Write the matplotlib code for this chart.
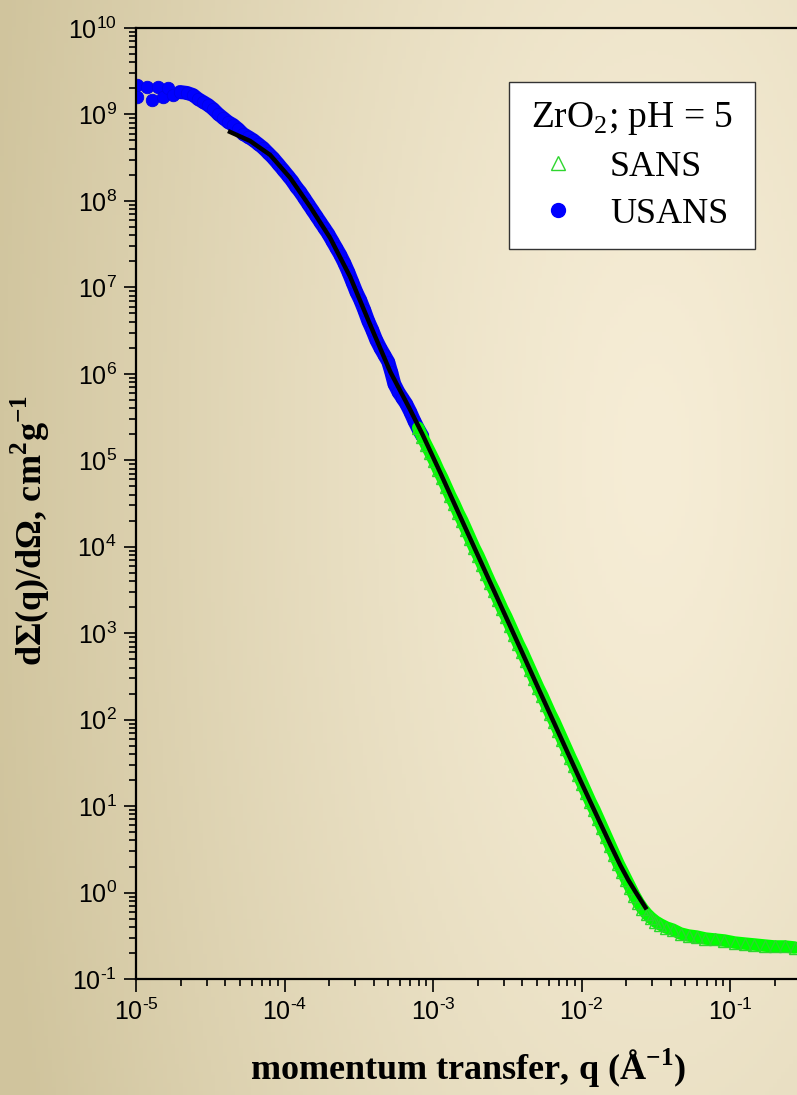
import numpy as np
import matplotlib
matplotlib.use('Agg')
import matplotlib.pyplot as plt
from matplotlib.lines import Line2D
from matplotlib.ticker import LogLocator, FuncFormatter

# values, stored as log10
# USANS (blue filled circles)
usans_logq = [-4.993, -4.993, -4.926, -4.892, -4.852, -4.818, -4.784, -4.751, -4.704, -4.656,
              -4.616, -4.582, -4.549, -4.515, -4.481, -4.447, -4.414, -4.380, -4.346, -4.313,
              -4.279, -4.245, -4.212, -4.178, -4.144, -4.111, -4.077, -4.043, -4.009, -3.976,
              -3.949, -3.922, -3.895, -3.868, -3.841, -3.814, -3.787, -3.760, -3.733, -3.706,
              -3.679, -3.652, -3.625, -3.598, -3.571, -3.544, -3.517, -3.491, -3.464, -3.437,
              -3.410, -3.383, -3.356, -3.329, -3.302, -3.282, -3.261, -3.234, -3.208, -3.181,
              -3.154, -3.127, -3.100, -3.073]
usans_logI = [9.341, 9.202, 9.318, 9.168, 9.318, 9.202, 9.306, 9.225, 9.260, 9.249,
              9.225, 9.179, 9.145, 9.110, 9.064, 9.006, 8.960, 8.913, 8.879, 8.832,
              8.775, 8.740, 8.705, 8.659, 8.613, 8.555, 8.497, 8.428, 8.358, 8.289,
              8.231, 8.162, 8.104, 8.035, 7.965, 7.896, 7.827, 7.757, 7.688, 7.619,
              7.538, 7.457, 7.376, 7.283, 7.179, 7.064, 6.948, 6.855, 6.740, 6.613,
              6.509, 6.393, 6.301, 6.220, 6.139, 6.023, 5.884, 5.792, 5.723, 5.653,
              5.561, 5.457, 5.364, 5.283]

# SANS (green open triangles)
sans_logq = [-3.100, -3.073, -3.046, -3.019, -2.992, -2.965, -2.938, -2.911, -2.884, -2.857,
             -2.830, -2.803, -2.776, -2.749, -2.722, -2.695, -2.668, -2.642, -2.615, -2.588,
             -2.561, -2.534, -2.507, -2.480, -2.453, -2.426, -2.399, -2.372, -2.345, -2.318,
             -2.291, -2.264, -2.237, -2.210, -2.183, -2.156, -2.129, -2.102, -2.075, -2.049,
             -2.022, -1.995, -1.968, -1.941, -1.914, -1.887, -1.860, -1.833, -1.806, -1.779,
             -1.752, -1.725, -1.698, -1.671, -1.644, -1.617, -1.590, -1.563, -1.536, -1.503,
             -1.469, -1.429, -1.388, -1.334, -1.280, -1.226, -1.166, -1.105, -1.038, -0.970,
             -0.903, -0.836, -0.768, -0.701, -0.633, -0.566]
sans_logI = [5.376, 5.272, 5.179, 5.087, 4.994, 4.890, 4.798, 4.694, 4.590, 4.497,
             4.393, 4.301, 4.197, 4.092, 3.988, 3.896, 3.792, 3.688, 3.584, 3.491,
             3.387, 3.283, 3.191, 3.087, 2.983, 2.879, 2.786, 2.682, 2.578, 2.474,
             2.370, 2.277, 2.173, 2.069, 1.977, 1.873, 1.769, 1.665, 1.561, 1.468,
             1.364, 1.260, 1.156, 1.052, 0.959, 0.855, 0.751, 0.647, 0.543, 0.439,
             0.335, 0.243, 0.150, 0.058, -0.035, -0.116, -0.185, -0.243, -0.289, -0.335,
             -0.370, -0.405, -0.428, -0.474, -0.497, -0.509, -0.532, -0.543, -0.555, -0.578,
             -0.590, -0.601, -0.613, -0.624, -0.624, -0.636]

# fitted model curve (black line)
fit_logq = [-4.367, -4.232, -4.097, -3.962, -3.827, -3.693, -3.558, -3.423, -3.288, -3.154,
            -3.073, -2.951, -2.817, -2.682, -2.547, -2.412, -2.278, -2.143, -2.008, -1.873,
            -1.806, -1.739, -1.685, -1.637, -1.570]
fit_logI = [8.798, 8.694, 8.532, 8.266, 7.931, 7.572, 7.121, 6.566, 6.023, 5.584,
            5.306, 4.855, 4.347, 3.838, 3.329, 2.821, 2.312, 1.803, 1.295, 0.798,
            0.553, 0.315, 0.143, 0.008, -0.173]

plt.rcParams['mathtext.fontset'] = 'custom'
plt.rcParams['mathtext.rm'] = 'Liberation Sans'
plt.rcParams['mathtext.sf'] = 'Liberation Serif'
plt.rcParams['mathtext.bf'] = 'Liberation Serif:bold'
plt.rcParams['font.family'] = 'Liberation Sans'

W, H = 797, 1095
fig = plt.figure(figsize=(W / 100, H / 100), dpi=100)

# beige gradient background, darker towards the left
bg = fig.add_axes([0, 0, 1, 1], zorder=-10)
gx, gy = np.meshgrid(np.linspace(0, 1, 200), np.linspace(0, 1, 280))
d = np.sqrt(((gx - 0.82) * 1.0) ** 2 + ((gy - 0.42) * 0.55) ** 2)
t = np.clip(d / 0.85, 0, 1) ** 1.3
light = np.array([246, 237, 214]) / 255
dark = np.array([208, 196, 157]) / 255
img = light[None, None, :] * (1 - t[..., None]) + dark[None, None, :] * t[..., None]
bg.imshow(img, aspect='auto', extent=[0, 1, 0, 1], origin='upper')
bg.axis('off')

# axes: left spine at x=136 px, bottom at 979 px, top at 28 px
ax = fig.add_axes([136 / W, (H - 979) / H, 665 / W, 951 / H])
ax.patch.set_alpha(0)

uq, uI = 10 ** np.array(usans_logq), 10 ** np.array(usans_logI)
sq, sI = 10 ** np.array(sans_logq), 10 ** np.array(sans_logI)
# dense measured points merge into a band
ax.plot(uq[8:], uI[8:], '-', color='#0000ff', lw=10, solid_capstyle='round', zorder=2)
ax.plot(uq, uI, 'o', color='#0000ff', ms=9, mec='#0000e6', mew=0.6, ls='none', zorder=2)
ax.plot(sq, sI, '-', color='#00ff00', lw=9, solid_capstyle='round', zorder=3)
ax.plot(sq, sI, '^', color='#2ed62e', mfc='none', ms=9, mew=1.0, ls='none', zorder=3)
ax.plot(10 ** np.array(fit_logq), 10 ** np.array(fit_logI), '-', color='black', lw=3.2,
        zorder=4)

ax.set_xscale('log')
ax.set_yscale('log')
ax.set_xlim(1e-5, 0.3)
ax.set_ylim(1e-1, 1e10)

ax.xaxis.set_major_locator(LogLocator(base=10, numticks=20))
ax.yaxis.set_major_locator(LogLocator(base=10, numticks=20))
ax.xaxis.set_minor_locator(LogLocator(base=10, subs=np.arange(2, 10), numticks=20))
ax.yaxis.set_minor_locator(LogLocator(base=10, subs=np.arange(2, 10), numticks=20))
fmt = FuncFormatter(lambda v, p: r'$\mathrm{10^{\text{%d}}}$' % round(np.log10(v)))
ax.xaxis.set_major_formatter(fmt)
ax.yaxis.set_major_formatter(fmt)

ax.tick_params(which='both', direction='out', width=1.2, top=False, right=False, colors='black')
ax.tick_params(which='major', length=9, labelsize=18, pad=5)
ax.tick_params(which='minor', length=5)
for s in ['left', 'bottom', 'top']:
    ax.spines[s].set_linewidth(1.6)
ax.spines['right'].set_visible(False)

ax.set_xlabel('momentum transfer, q (Å$^{\\mathbf{-1}}$)', family='Liberation Serif',
              weight='bold', fontsize=26)
ax.xaxis.set_label_coords(0.5, -0.071)
ax.set_ylabel('dΣ(q)/dΩ, cm$^{\\mathbf{2}}$g$^{\\mathbf{-1}}$', family='Liberation Serif',
              weight='bold', fontsize=26)
ax.yaxis.set_label_coords(-0.126, 0.472)

handles = [Line2D([], [], marker='^', ls='none', mfc='none', mec='#2ed62e', ms=10, mew=1.0),
           Line2D([], [], marker='o', ls='none', color='#0000ff', ms=10)]
leg = ax.legend(handles, ['SANS', 'USANS'], title='ZrO$_\\mathsf{2}$; pH = 5',
                loc='upper left', bbox_to_anchor=(509 / W, 1 - 82 / H, 246 / W, 0.0),
                bbox_transform=fig.transFigure, mode='expand', borderaxespad=0,
                prop={'family': 'Liberation Serif', 'size': 26},
                title_fontproperties={'family': 'Liberation Serif', 'size': 27},
                frameon=True, fancybox=False, framealpha=1, edgecolor='#333333',
                borderpad=0.5, handlelength=1.7, handletextpad=0.6, labelspacing=0.38)
leg.get_frame().set_linewidth(1.0)

fig.savefig('out.png', dpi=100)
